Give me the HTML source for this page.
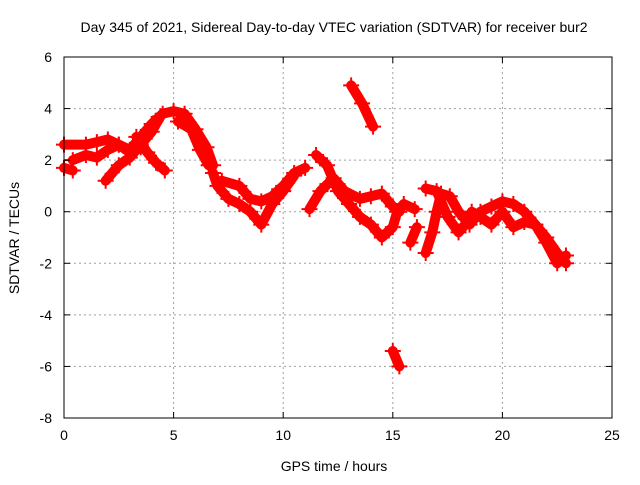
<!DOCTYPE html>
<html><head><meta charset="utf-8"><style>
body{margin:0;background:#fff}
svg{font-family:"Liberation Sans",sans-serif;font-size:14px}
</style></head><body>
<svg id="chart" width="640" height="480" xmlns="http://www.w3.org/2000/svg">
<rect width="640" height="480" fill="#fff"/>
<text x="334" y="32" text-anchor="middle">Day 345 of 2021, Sidereal Day-to-day VTEC variation (SDTVAR) for receiver bur2</text>
<g id="grid"></g><g id="marks"></g><g id="axes"></g>
<text x="334" y="471" text-anchor="middle">GPS time / hours</text>
<text transform="translate(19,238) rotate(-90)" text-anchor="middle">SDTVAR / TECUs</text>
</svg>
<script>
const xTicks=[0,5,10,15,20,25];
const yTicks=[-8,-6,-4,-2,0,2,4,6];
const trackA=[[0,2.6],[1,2.6],[1.5,2.7],[2,2.8],[2.5,2.6],[3,2.4],[3.5,2.9],[4,3.4],[4.5,3.8],[5,3.9],[5.5,3.8],[6,3.2],[6.5,2.5],[6.8,1.8]];
const trackB=[[0,1.7],[0.4,1.6]];
const trackB2=[[0.4,2.0],[1,2.2],[1.5,2.1],[2,2.4],[2.5,2.6],[3,2.3],[3.5,2.5]];
const trackC=[[1.9,1.2],[2.5,1.8],[3,2.1],[3.5,2.6],[4,3.1],[4.4,3.7]];
const trackC2=[[3.3,2.9],[3.8,2.3],[4.2,1.9],[4.6,1.6]];
const trackC3=[[5.2,3.5],[5.8,3.2],[6.2,2.4],[6.6,1.8]];
const trackD=[[6.8,1.5],[7,1.0],[7.5,0.5],[8,0.3],[8.5,0.0],[9,-0.5],[9.5,0.3],[10,0.8],[10.5,1.4]];
const trackD2=[[7.2,1.2],[8,1.0],[8.5,0.5],[9,0.4],[9.5,0.6],[10,1.0],[10.5,1.5],[11,1.7]];
const trackE=[[11.5,2.2],[12,1.8],[12.5,0.8],[13,0.3],[13.5,-0.2],[14,-0.5],[14.5,-1.0],[15,-0.6],[15.2,0.0],[15.5,0.3],[16,0.1]];
const trackE2=[[11.2,0.1],[11.7,0.8],[12.3,1.3],[12.8,0.8],[13.5,0.5],[14,0.6],[14.5,0.7],[15,0.2],[15.3,0.0]];
const trackG=[[13.1,4.9],[13.6,4.2],[14.1,3.3]];
const trackH=[[15,-5.4],[15.3,-6.0]];
const trackI=[[15.8,-1.2],[16.1,-0.6]];
const trackF=[[16.5,-1.6],[16.8,-0.8],[17,0.0],[17.2,0.7],[17.6,0.6],[18,0.0],[18.5,-0.5],[19,0.0],[19.5,0.2],[20,0.4],[20.5,0.3],[21,0.0],[21.5,-0.5],[22,-1.0],[22.5,-1.6],[22.9,-2.0]];
const trackF2=[[16.5,0.9],[17,0.8],[17.5,-0.2],[18,-0.8],[18.3,-0.5],[18.6,0.0],[19,-0.2],[19.5,-0.5],[20,0.0],[20.5,-0.6],[21,-0.4],[21.5,-0.5],[22,-1.2],[22.5,-2.0],[22.9,-1.7]];
const tracks=[trackA,trackB,trackB2,trackC,trackC2,trackC3,trackD,trackD2,trackE,trackE2,trackG,trackH,trackI,trackF,trackF2];

const X0=64,X1=612,Y0=418,Y1=57;
const xs=v=>X0+(v-0)/(25-0)*(X1-X0);
const ys=v=>Y0-(v+8)/(6+8)*(Y0-Y1);
const NS="http://www.w3.org/2000/svg";
function mk(tag,attrs,parent){const e=document.createElementNS(NS,tag);for(const k in attrs)e.setAttribute(k,attrs[k]);parent.appendChild(e);return e;}
const grid=document.getElementById('grid'),axes=document.getElementById('axes'),marks=document.getElementById('marks');
xTicks.forEach(t=>{
  const x=xs(t);
  if(t>0&&t<25){const g=mk('line',{x1:x,x2:x,y1:Y1,y2:Y0,stroke:'#a0a0a0','stroke-dasharray':'2,3'},grid);
  
  }
  mk('line',{x1:x,x2:x,y1:Y0,y2:Y0-6,stroke:'#000'},axes);
  mk('line',{x1:x,x2:x,y1:Y1,y2:Y1+6,stroke:'#000'},axes);
  const l=mk('text',{x:x,y:Y0+22,'text-anchor':'middle'},axes);l.textContent=t;
  
  
});
yTicks.forEach(t=>{
  const y=ys(t);
  if(t>-8&&t<6){const g=mk('line',{x1:X0,x2:X1,y1:y,y2:y,stroke:'#a0a0a0','stroke-dasharray':'2,3'},grid);
  
  }
  mk('line',{x1:X0,x2:X0+6,y1:y,y2:y,stroke:'#000'},axes);
  mk('line',{x1:X1,x2:X1-6,y1:y,y2:y,stroke:'#000'},axes);
  const l=mk('text',{x:X0-12,y:y+5,'text-anchor':'end'},axes);l.textContent=t;
  
  
});
const fr=mk('rect',{x:X0,y:Y1,width:X1-X0,height:Y0-Y1,fill:'none',stroke:'#000'},axes);


tracks.forEach(tr=>{
  const pl=mk('polyline',{points:tr.map(p=>xs(p[0])+','+ys(p[1])).join(' '),fill:'none',stroke:'#ff0000','stroke-width':10,'stroke-linejoin':'round','stroke-linecap':'round'},marks);
  
  
  tr.forEach(p=>{
    const x=xs(p[0]),y=ys(p[1]);
    const m=mk('path',{d:`M${x-8},${y}H${x+8}M${x},${y-8}V${y+8}`,stroke:'#ff0000','stroke-width':2},marks);
    
    
  });
});
</script>
</body></html>
